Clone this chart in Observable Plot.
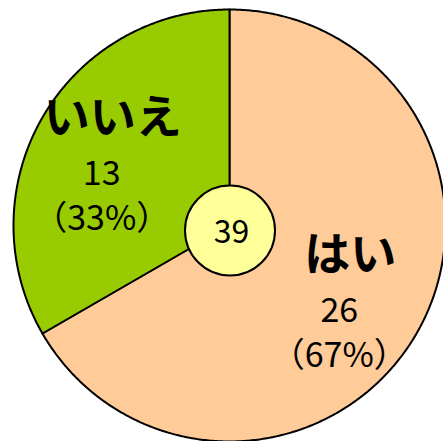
<!DOCTYPE html>
<html>
<head>
<meta charset="utf-8">
<script src="https://cdn.jsdelivr.net/npm/d3@7"></script>
<script src="https://cdn.jsdelivr.net/npm/@observablehq/plot@0.6"></script>
<style>
  html, body { margin: 0; padding: 0; background: #fff; overflow: hidden; }
</style>
</head>
<body>
<div id="chart"></div>
<script>
// Data
const names = ["はい", "いいえ"];
const counts = [26, 13];
const colors = ["#FFCC99", "#99CC00"];

const rows = names.map((name, i) => ({name, count: counts[i]}));
const total = d3.sum(counts);

// Slices via d3.pie (clockwise from 12 o'clock)
const arcs = d3.pie().sort(null).value(d => d.count)(rows);
const slicePts = [];
arcs.forEach(a => {
  const nm = a.data.name;
  slicePts.push({name: nm, x: 0, y: 0});
  const steps = Math.max(2, Math.ceil((a.endAngle - a.startAngle) / (Math.PI / 360)));
  for (let s = 0; s <= steps; s++) {
    const t = a.startAngle + (a.endAngle - a.startAngle) * s / steps;
    slicePts.push({name: nm, x: Math.sin(t), y: Math.cos(t)});
  }
  slicePts.push({name: nm, x: 0, y: 0});
});

const k = 0.635;
const labels = arcs.map(a => {
  const mid = (a.startAngle + a.endAngle) / 2;
  return {
    name: a.data.name,
    count: a.data.count,
    pct: "（" + Math.round(a.data.count / total * 100) + "%）",
    x: k * Math.sin(mid),
    y: k * Math.cos(mid)
  };
});

const font = "'Noto Sans CJK JP', 'Noto Sans', sans-serif";

const chart = Plot.plot({
  width: 443,
  height: 441,
  margin: 0,
  x: {domain: [-1, 1], range: [13, 445], axis: null},
  y: {domain: [-1, 1], range: [441, 9], axis: null},
  color: {domain: names, range: colors},
  marks: [
    Plot.line(slicePts, {x: "x", y: "y", z: "name", fill: "name", stroke: "#000", strokeWidth: 2, strokeLinejoin: "round", curve: "linear"}),
    Plot.dot([{x: 0, y: 0}], {x: "x", y: "y", r: 45, dx: 0.5, dy: 5, fill: "#FFFF99", stroke: "#000", strokeWidth: 2}),
    Plot.text([{x: 0, y: 0, t: String(total)}], {x: "x", y: "y", text: "t", dx: 2, dy: 7, fontSize: 32, fontFamily: font, fill: "#000"}),
    Plot.text(labels, {x: "x", y: "y", text: "name", dx: 2, dy: -39, fontSize: 46, fontWeight: "bold", fontFamily: font, fill: "#000"}),
    Plot.text(labels, {x: "x", y: "y", text: d => String(d.count), dx: -9, dy: 17, fontSize: 34, fontFamily: font, fill: "#000"}),
    Plot.text(labels, {x: "x", y: "y", text: "pct", dx: -9, dy: 62, fontSize: 34, fontFamily: font, fill: "#000"})
  ]
});
document.getElementById("chart").appendChild(chart);
</script>
</body>
</html>
